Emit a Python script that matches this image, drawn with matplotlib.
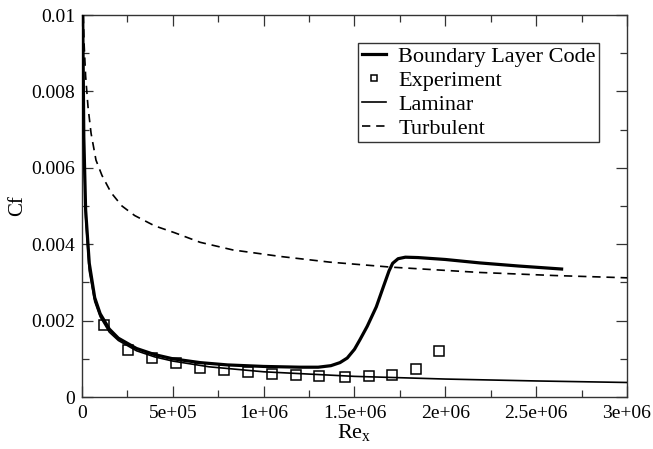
import matplotlib
matplotlib.use("Agg")
import matplotlib.pyplot as plt
from matplotlib.ticker import MultipleLocator, FixedLocator, FixedFormatter

plt.rcParams['font.family'] = ['Liberation Serif', 'DejaVu Serif']
plt.rcParams['mathtext.fontset'] = 'custom'
plt.rcParams['mathtext.rm'] = 'Liberation Serif'

# ---- data ----
bl_re = [4e3, 1e4, 2e4, 4e4, 7e4, 1e5, 1.5e5, 2e5, 3e5, 4e5, 5e5, 6.5e5, 8e5, 1e6,
         1.2e6, 1.3e6, 1.37e6, 1.42e6, 1.46e6, 1.50e6, 1.53e6, 1.57e6, 1.62e6, 1.66e6,
         1.69e6, 1.71e6, 1.74e6, 1.78e6, 1.85e6, 2.0e6, 2.19e6, 2.4e6, 2.64e6]
bl_cf = [0.0100, 0.0068, 0.0049, 0.0035, 0.0026, 0.00218, 0.00178, 0.00154, 0.00127,
         0.00111, 0.00100, 0.00090, 0.00084, 0.00080, 0.00078, 0.00078, 0.00082, 0.00090,
         0.00102, 0.00125, 0.00150, 0.00185, 0.00236, 0.00290, 0.00330, 0.00350, 0.00362,
         0.00366, 0.00365, 0.00360, 0.00351, 0.00343, 0.00335]

exp_re = [1.21e5, 2.53e5, 3.85e5, 5.17e5, 6.50e5, 7.82e5, 9.14e5, 1.046e6, 1.178e6,
          1.305e6, 1.448e6, 1.580e6, 1.706e6, 1.839e6, 1.965e6]
exp_cf = [0.00188, 0.00123, 0.00102, 0.00089, 0.00076, 0.00071, 0.00065, 0.00060,
          0.00058, 0.00055, 0.00053, 0.00055, 0.00058, 0.00073, 0.00120]

lam_re = [4.4e3, 1e4, 2e4, 4e4, 7e4, 1e5, 1.5e5, 2e5, 3e5, 4e5, 5e5, 7e5, 1e6,
          1.5e6, 2e6, 2.5e6, 3e6]
lam_cf = [0.0100, 0.0066, 0.0047, 0.0033, 0.0025, 0.0021, 0.0017, 0.00148, 0.00121,
          0.00105, 0.00094, 0.00079, 0.00066, 0.00054, 0.00047, 0.00042, 0.00038]

turb_re = [7e3, 1.2e4, 2e4, 3.3e4, 5e4, 7.7e4, 1.1e5, 1.6e5, 2.2e5, 2.9e5, 4e5, 5.1e5,
           6.5e5, 8.3e5, 1.09e6, 1.365e6, 1.7e6, 2.19e6, 2.6e6, 3e6]
turb_cf = [0.0100, 0.0092, 0.0084, 0.0076, 0.0069, 0.0062, 0.0058, 0.00535, 0.0050,
           0.00475, 0.00448, 0.00430, 0.00405, 0.00385, 0.00368, 0.00353, 0.00340,
           0.00326, 0.00318, 0.00312]

xticks = [0, 5e5, 1e6, 1.5e6, 2e6, 2.5e6, 3e6]
xticklabels = ["0", "5e+05", "1e+06", "1.5e+06", "2e+06", "2.5e+06", "3e+06"]
yticks = [0, 0.002, 0.004, 0.006, 0.008, 0.01]
yticklabels = ["0", "0.002", "0.004", "0.006", "0.008", "0.01"]

fig = plt.figure(figsize=(6.53, 4.49), dpi=100)
ax = fig.add_axes([82/653, 1 - 397/449, 545/653, 382/449])

ax.plot(bl_re, bl_cf, color='black', lw=2.3, label='Boundary Layer Code', zorder=4)
ax.plot(exp_re, exp_cf, linestyle='none', marker='s', markersize=6.5,
        markerfacecolor='none', markeredgecolor='black', markeredgewidth=1.1,
        label='Experiment', zorder=5)
ax.plot(lam_re, lam_cf, color='black', lw=1.2, label='Laminar', zorder=3)
ax.plot(turb_re, turb_cf, color='black', lw=1.2, linestyle=(0, (5, 3.5)),
        label='Turbulent', zorder=3)

ax.set_xlim(0, 3e6)
ax.set_ylim(0, 0.01)
ax.xaxis.set_major_locator(FixedLocator(xticks))
ax.xaxis.set_major_formatter(FixedFormatter(xticklabels))
ax.yaxis.set_major_locator(FixedLocator(yticks))
ax.yaxis.set_major_formatter(FixedFormatter(yticklabels))
ax.xaxis.set_minor_locator(MultipleLocator(2.5e5))
ax.yaxis.set_minor_locator(MultipleLocator(0.001))
ax.tick_params(which='both', direction='in', top=True, right=True, labelsize=14,
               width=0.9, color='#333333')
ax.tick_params(which='major', length=8)
ax.tick_params(which='minor', length=5)
ax.tick_params(axis='y', which='major', pad=5)
ax.tick_params(axis='x', which='major', pad=6)
for s in ax.spines.values():
    s.set_linewidth(1.0)
    s.set_color('#333333')

ax.set_ylabel('Cf', fontsize=15, labelpad=3)
ax.set_xlabel(r'$\mathrm{Re}_\mathrm{x}$', fontsize=16, labelpad=0)

leg = ax.legend(loc='upper right', bbox_to_anchor=(0.949, 0.927), borderaxespad=0,
                fontsize=16, frameon=True, fancybox=False, framealpha=1,
                edgecolor='#333333', handlelength=1.1, handletextpad=0.55,
                labelspacing=0.16, borderpad=0.15, markerscale=0.75)
leg.get_frame().set_linewidth(1.0)

fig.savefig('out.png', dpi=100)
